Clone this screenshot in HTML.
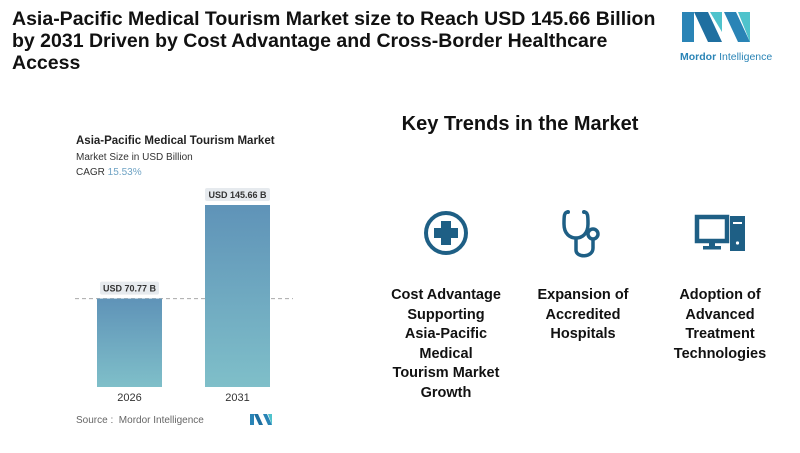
<!DOCTYPE html>
<html><head><meta charset="utf-8"><style>
body{margin:0;width:800px;height:453px;background:#fff;font-family:"Liberation Sans",sans-serif;position:relative;overflow:hidden}
.a{position:absolute}
h1{position:absolute;left:12px;top:8px;margin:0;font-size:19.5px;line-height:22px;font-weight:bold;color:#111;width:680px;white-space:nowrap}
.kt{left:330px;width:380px;top:113px;text-align:center;font-size:20px;font-weight:bold;color:#111}
.col{width:140px;text-align:center;font-size:14.5px;line-height:19.6px;font-weight:bold;color:#111;top:286px}
</style></head><body>
<h1>Asia-Pacific Medical Tourism Market size to Reach USD 145.66 Billion<br>by 2031 Driven by Cost Advantage and Cross-Border Healthcare<br>Access</h1>
<svg class="a" style="left:680px;top:10px" width="110" height="60">
<polygon points="2,2 14,2 14,32 2,32" fill="#2a84b6"/>
<polygon points="14,2 28,2 42,32 28,32" fill="#1f6fa0"/>
<polygon points="30,2 42,2 42,22" fill="#4fc3cc"/>
<polygon points="44,2 56,2 70,32 58,32" fill="#2a84b6"/>
<polygon points="58,2 70,2 70,32" fill="#4fc3cc"/>
<text x="0" y="50" font-size="10.5" fill="#2a84b6" font-family="Liberation Sans"><tspan font-weight="bold">Mordor</tspan> Intelligence</text>
</svg>
<div class="a" style="left:76px;top:135px;font-size:11.5px;color:#222;font-weight:bold">Asia-Pacific Medical Tourism Market</div>
<div class="a" style="left:76px;top:152px;font-size:10px;color:#333">Market Size in USD Billion</div>
<div class="a" style="left:76px;top:167px;font-size:10px;color:#333">CAGR <span style="color:#6fa3c4">15.53%</span></div>
<svg id="chart" class="a" style="left:0;top:0" width="330" height="453">
<defs><linearGradient id="g" x1="0" y1="0" x2="0" y2="1"><stop offset="0" stop-color="#5f93b8"/><stop offset="1" stop-color="#7fbfc9"/></linearGradient></defs>
</svg>
<div class="a" style="left:76px;top:415px;font-size:10px;color:#666">Source :&nbsp; Mordor Intelligence</div>
<svg class="a" style="left:250px;top:414px" width="22" height="12"><polygon points="0,0 4,0 4,11 0,11" fill="#2a84b6"/><polygon points="4,0 8,0 13,11 9,11" fill="#1f6fa0"/><polygon points="13,0 17,0 22,11 18,11" fill="#2a84b6"/><polygon points="18,0 22,0 22,11" fill="#4fc3cc"/></svg>
<div class="a kt">Key Trends in the Market</div>
<svg class="a" style="left:423px;top:210px" width="46" height="46"><circle cx="23" cy="23" r="20" fill="none" stroke="#1e5f85" stroke-width="4"/><path d="M18,11h10v7h7v10h-7v7h-10v-7h-7v-10h7z" fill="#1e5f85"/></svg>
<svg class="a" style="left:560px;top:206px" width="46" height="58"><path d="M8,6 C4,6 4,10 4,18 C4,28 10,32 16,32 C22,32 28,28 28,18 C28,10 28,6 24,6" fill="none" stroke="#1e5f85" stroke-width="3.5"/><path d="M16,32 V44 C16,52 33,52 33,42 V34" fill="none" stroke="#1e5f85" stroke-width="3.5"/><circle cx="33" cy="28" r="5" fill="none" stroke="#1e5f85" stroke-width="3.5"/><circle cx="8" cy="6" r="2" fill="#1e5f85"/><circle cx="24" cy="6" r="2" fill="#1e5f85"/></svg>
<svg class="a" style="left:694px;top:214px" width="54" height="40"><rect x="3" y="3" width="30" height="24" fill="none" stroke="#1e5f85" stroke-width="4.5"/><rect x="15" y="28" width="6" height="5" fill="#1e5f85"/><rect x="9" y="32" width="18" height="3.5" fill="#1e5f85"/><rect x="36" y="2" width="15" height="35" fill="#1e5f85"/><rect x="39" y="8" width="9" height="2" fill="#fff"/><circle cx="43.5" cy="29" r="1.6" fill="#fff"/></svg>
<div class="a col" style="left:376px">Cost Advantage<br>Supporting<br>Asia-Pacific<br>Medical<br>Tourism Market<br>Growth</div>
<div class="a col" style="left:513px">Expansion of<br>Accredited<br>Hospitals</div>
<div class="a col" style="left:650px">Adoption of<br>Advanced<br>Treatment<br>Technologies</div>
<script>
const categories=["2026","2031"];
const values=[70.77,145.66];
const valueLabels=["USD 70.77 B","USD 145.66 B"];
const svg=document.getElementById('chart');
const NS="http://www.w3.org/2000/svg";
const base=387, scale=182/145.66;
const xPos=i=>97+i*108, bw=65;
const y=v=>base-v*scale;
function mk(t,a){const e=document.createElementNS(NS,t);for(const k in a)e.setAttribute(k,a[k]);svg.appendChild(e);return e;}
const dl=mk('line',{x1:75,x2:293,y1:y(values[0]),y2:y(values[0]),stroke:'#aaa','stroke-dasharray':'4,3','stroke-width':1});


values.forEach((v,i)=>{
 const r=mk('rect',{x:xPos(i),y:y(v),width:bw,height:base-y(v),fill:'url(#g)'});
 
 
 const lb=mk('rect',{x:xPos(i)+(i?0:3),y:y(v)-17,width:i?65:59,height:13,fill:'#e6eaee',rx:2});
 
 
 const t=mk('text',{x:xPos(i)+bw/2,y:y(v)-7,'text-anchor':'middle','font-size':9,'font-weight':'bold',fill:'#333','font-family':'Liberation Sans'});
 t.textContent=valueLabels[i];
 
 
 const c=mk('text',{x:xPos(i)+bw/2,y:401,'text-anchor':'middle','font-size':11,fill:'#333','font-family':'Liberation Sans'});
 c.textContent=categories[i];
 
 
});
</script>
</body></html>
